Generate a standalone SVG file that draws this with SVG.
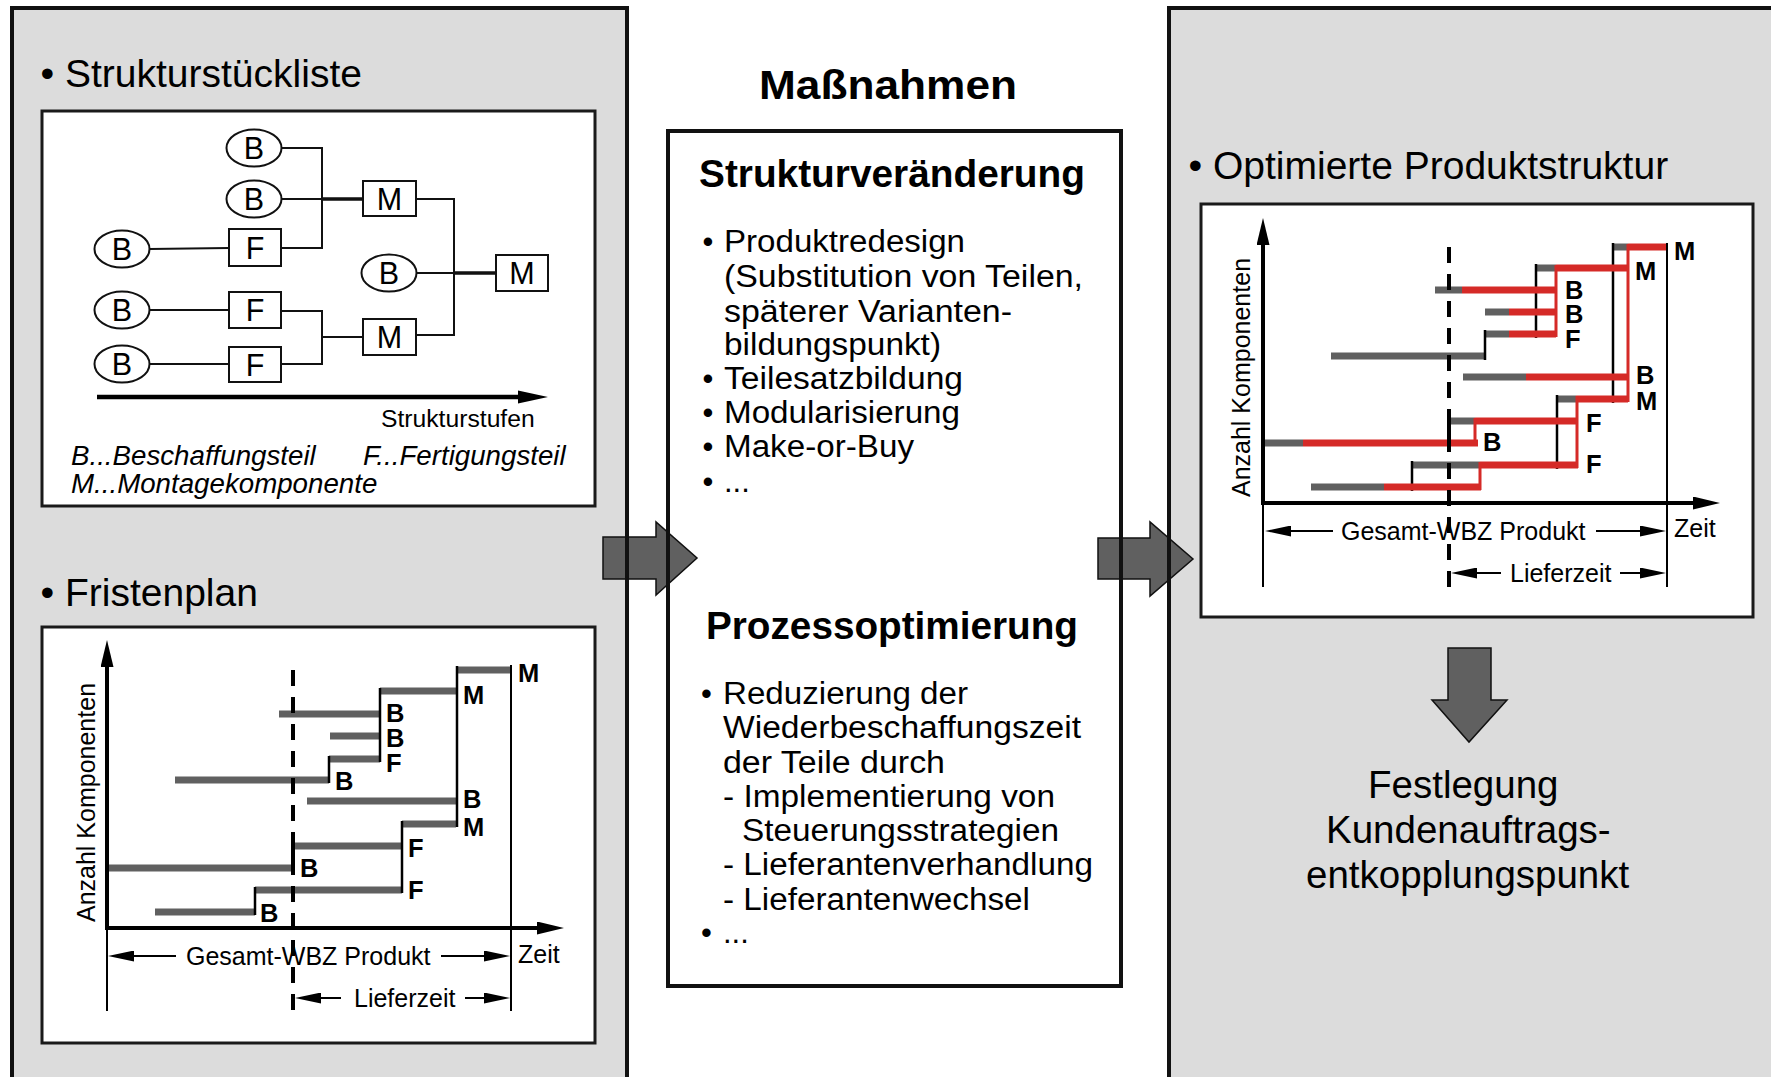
<svg xmlns="http://www.w3.org/2000/svg" width="1771" height="1077" viewBox="0 0 1771 1077">
  <style>
    text { font-family: "Liberation Sans", Arial, sans-serif; fill: #000; }
    .panel { fill: #dcdcdc; stroke: none; }
    .frame { fill: none; stroke: #111; stroke-width: 4; }
    .box { fill: #fff; stroke: #1a1a1a; stroke-width: 3; }
    .title { font-size: 39px; }
    .node { fill: #fff; stroke: #111; stroke-width: 2; }
    .nl { font-size: 30.5px; text-anchor: middle; }
    .wire { fill: none; stroke: #111; stroke-width: 2; }
    .wire-b { fill: none; stroke: #111; stroke-width: 3.5; }
    .legend { font-size: 27.7px; font-style: italic; }
    .axis { stroke: #000; stroke-width: 4; fill: none; }
    .thin { stroke: #000; stroke-width: 2; fill: none; }
    .dash { stroke: #000; stroke-width: 4; stroke-dasharray: 16 11; fill: none; }
    .bar { stroke: #606060; stroke-width: 7; fill: none; }
    .red { stroke: #d52a27; stroke-width: 7; fill: none; }
    .redv { stroke: #d52a27; stroke-width: 3; fill: none; }
    .link { stroke: #000; stroke-width: 2.5; fill: none; }
    .lab { font-size: 25.5px; font-weight: bold; }
    .ax { font-size: 25px; }
    .head { font-weight: bold; }
    .body { font-size: 31px; }
    .blk { fill: #606060; stroke: #111; stroke-width: 1.5; stroke-linejoin: miter; }
  </style>
  <defs>
    <marker id="ah" markerUnits="userSpaceOnUse" markerWidth="26" markerHeight="11" refX="6" refY="5.5" orient="auto">
      <path d="M0,0 L26,5.5 L0,11 z" fill="#000"/>
    </marker>
    <marker id="axh" markerUnits="userSpaceOnUse" markerWidth="27" markerHeight="13" refX="6" refY="6.5" orient="auto">
      <path d="M0,0 L27,6.5 L0,13 z" fill="#000"/>
    </marker>
  </defs>

  <rect width="1771" height="1077" fill="#fff"/>

  <!-- panel and box backgrounds (frames are stroked later, over the block arrows) -->
  <rect class="panel" x="12" y="8" width="615" height="1100"/>
  <rect class="panel" x="1169" y="8" width="700" height="1100"/>
  <rect x="668" y="131" width="453" height="855" fill="#fff"/>

  <!-- block arrows between the columns -->
  <g id="connectors">
    <polygon class="blk" points="603,537 656,537 656,522 697,558 656,595 656,579 603,579"/>
    <polygon class="blk" points="1098,538 1150,538 1150,522 1193,559 1150,596 1150,579 1098,579"/>
    <polygon class="blk" points="1448,648 1491,648 1491,700 1507,700 1469,742 1432,700 1448,700"/>
  </g>

  <!-- frames -->
  <rect class="frame" x="12" y="8" width="615" height="1100"/>
  <rect class="frame" x="1169" y="8" width="700" height="1100"/>
  <rect class="frame" x="668" y="131" width="453" height="855"/>

  <!-- left column: bill of materials -->
  <g id="strukturstueckliste">
    <text class="title" x="40.5" y="87">• Strukturstückliste</text>
    <rect class="box" x="42" y="111" width="553" height="395"/>
    <g id="bom-wires">
      <path class="wire" d="M281.5,148 H322 V248 H281 M281.5,199 H322 M149.5,249 L229,248 M149.5,310 H229 M149.5,364 H229 M281,311 H322 V364 H281 M322,337 H363 M416,199 H454 V335 H416 M416,273 H454"/>
      <path class="wire-b" d="M322,199 H363 M454,273 H496"/>
    </g>
    <g id="bom-nodes">
      <ellipse class="node" cx="254" cy="148" rx="27.5" ry="18.5"/>
      <text class="nl" x="254" y="159">B</text>
      <ellipse class="node" cx="254" cy="199" rx="27.5" ry="18.5"/>
      <text class="nl" x="254" y="210">B</text>
      <ellipse class="node" cx="122" cy="249" rx="27.5" ry="18.5"/>
      <text class="nl" x="122" y="260">B</text>
      <ellipse class="node" cx="122" cy="310" rx="27.5" ry="18.5"/>
      <text class="nl" x="122" y="321">B</text>
      <ellipse class="node" cx="122" cy="364" rx="27.5" ry="18.5"/>
      <text class="nl" x="122" y="375">B</text>
      <ellipse class="node" cx="389" cy="273" rx="27.5" ry="18.5"/>
      <text class="nl" x="389" y="284">B</text>
      <rect class="node" x="229" y="229" width="52" height="37"/>
      <text class="nl" x="255" y="258.5">F</text>
      <rect class="node" x="229" y="292" width="52" height="36"/>
      <text class="nl" x="255" y="321">F</text>
      <rect class="node" x="229" y="347" width="52" height="35"/>
      <text class="nl" x="255" y="375.5">F</text>
      <rect class="node" x="363" y="181" width="53" height="35"/>
      <text class="nl" x="389.5" y="209.5">M</text>
      <rect class="node" x="363" y="319" width="53" height="36"/>
      <text class="nl" x="389.5" y="348">M</text>
      <rect class="node" x="496" y="255" width="52" height="36"/>
      <text class="nl" x="522" y="284">M</text>
    </g>
    <line x1="97" y1="397" x2="522" y2="397" stroke="#000" stroke-width="4.5"/>
    <polygon points="518,390.5 548,397 518,403.5" fill="#000"/>
    <text x="381" y="427" style="font-size:24.7px">Strukturstufen</text>
    <text class="legend" x="71" y="465">B...Beschaffungsteil</text>
    <text class="legend" x="363" y="465">F...Fertigungsteil</text>
    <text class="legend" x="71" y="493">M...Montagekomponente</text>
  </g>

  <!-- left column: lead-time chart -->
  <g id="fristenplan">
    <text class="title" x="40.5" y="606">• Fristenplan</text>
    <rect class="box" x="42" y="627" width="553" height="416"/>
    <g id="fp-bars">
      <path class="bar" d="M457,670 H511 M380,691 H456 M279,714 H380 M330,736 H380 M329,759 H380 M175,780 H329 M307,801 H456 M402,824 H456 M293,846 H402 M107,868 H293 M255,890 H402 M155,912 H255"/>
    </g>
    <g id="fp-links">
      <path class="link" d="M457,666 V827 M380,688 V762 M329,756 V783 M402,821 V893 M255,887 V915"/>
      <line x1="293" y1="843" x2="293" y2="871" stroke="#000" stroke-width="4"/>
    </g>
    <line class="dash" x1="293" y1="670" x2="293" y2="1011"/>
    <line class="thin" x1="107" y1="928" x2="107" y2="1011"/>
    <line class="thin" x1="511" y1="665" x2="511" y2="1011"/>
    <line class="axis" x1="107" y1="930" x2="107" y2="661" marker-end="url(#axh)"/>
    <line class="axis" x1="105" y1="928" x2="543" y2="928" marker-end="url(#axh)"/>
    <text class="ax" transform="translate(95,802.5) rotate(-90)" text-anchor="middle">Anzahl Komponenten</text>
    <g class="lab">
      <text x="518" y="682">M</text>
      <text x="463" y="704">M</text>
      <text x="386" y="722">B</text>
      <text x="386" y="747">B</text>
      <text x="386" y="772">F</text>
      <text x="335" y="790">B</text>
      <text x="463" y="808">B</text>
      <text x="463" y="836">M</text>
      <text x="408" y="857">F</text>
      <text x="300" y="877">B</text>
      <text x="408" y="899">F</text>
      <text x="260" y="922">B</text>
    </g>
    <line class="thin" x1="176" y1="956" x2="128" y2="956" marker-end="url(#ah)"/>
    <line class="thin" x1="441" y1="956" x2="490" y2="956" marker-end="url(#ah)"/>
    <text class="ax" x="186" y="965">Gesamt-WBZ Produkt</text>
    <text class="ax" x="518" y="963">Zeit</text>
    <line class="thin" x1="341" y1="998" x2="315" y2="998" marker-end="url(#ah)"/>
    <line class="thin" x1="465" y1="998" x2="490" y2="998" marker-end="url(#ah)"/>
    <text class="ax" x="354" y="1007">Lieferzeit</text>
  </g>

  <!-- middle column: measures -->
  <g id="massnahmen">
    <text class="head" x="759" y="99" style="font-size:40px" textLength="258" lengthAdjust="spacingAndGlyphs">Maßnahmen</text>
    <text class="head" x="699" y="187" style="font-size:38px" textLength="386" lengthAdjust="spacingAndGlyphs">Strukturveränderung</text>
    <g class="body">
      <text x="702.5" y="252">•</text>
      <text x="724" y="252" textLength="241" lengthAdjust="spacingAndGlyphs">Produktredesign</text>
      <text x="724" y="287" textLength="359" lengthAdjust="spacingAndGlyphs">(Substitution von Teilen,</text>
      <text x="724" y="322" textLength="288" lengthAdjust="spacingAndGlyphs">späterer Varianten-</text>
      <text x="724" y="355" textLength="217" lengthAdjust="spacingAndGlyphs">bildungspunkt)</text>
      <text x="702.5" y="389">•</text>
      <text x="724" y="389" textLength="239" lengthAdjust="spacingAndGlyphs">Teilesatzbildung</text>
      <text x="702.5" y="423">•</text>
      <text x="724" y="423" textLength="236" lengthAdjust="spacingAndGlyphs">Modularisierung</text>
      <text x="702.5" y="457">•</text>
      <text x="724" y="457" textLength="190" lengthAdjust="spacingAndGlyphs">Make-or-Buy</text>
      <text x="702.5" y="492">•</text>
      <text x="724" y="492">...</text>
    </g>
    <text class="head" x="706" y="639" style="font-size:38px" textLength="372" lengthAdjust="spacingAndGlyphs">Prozessoptimierung</text>
    <g class="body">
      <text x="701" y="704">•</text>
      <text x="723" y="704" textLength="245" lengthAdjust="spacingAndGlyphs">Reduzierung der</text>
      <text x="723" y="738" textLength="358" lengthAdjust="spacingAndGlyphs">Wiederbeschaffungszeit</text>
      <text x="723" y="773" textLength="222" lengthAdjust="spacingAndGlyphs">der Teile durch</text>
      <text x="723" y="807" textLength="332" lengthAdjust="spacingAndGlyphs">- Implementierung von</text>
      <text x="742" y="841" textLength="317" lengthAdjust="spacingAndGlyphs">Steuerungsstrategien</text>
      <text x="723" y="875" textLength="370" lengthAdjust="spacingAndGlyphs">- Lieferantenverhandlung</text>
      <text x="723" y="910" textLength="307" lengthAdjust="spacingAndGlyphs">- Lieferantenwechsel</text>
      <text x="701" y="943">•</text>
      <text x="723" y="943">...</text>
    </g>
  </g>

  <!-- right column: optimised product structure -->
  <g id="optimierte-produktstruktur">
    <text class="title" x="1188.5" y="179">• Optimierte Produktstruktur</text>
    <rect class="box" x="1201" y="204" width="552" height="413"/>
    <g id="op-bars">
      <path class="bar" d="M1612,247 H1628 M1536,268 H1556 M1435,290 H1462 M1485,312 H1509 M1485,334 H1509 M1331,356 H1485 M1463,377 H1526 M1557,399 H1576 M1450,421 H1475 M1264,443 H1303 M1412,465 H1480 M1311,487 H1384"/>
      <path class="link" d="M1613,243 V403 M1536,264 V338 M1485,330 V360 M1557,395 V469 M1412,461 V491"/>
      <path class="red" d="M1628,247 H1667 M1556,268 H1628 M1462,290 H1556 M1509,312 H1556 M1509,334 H1556 M1526,377 H1628 M1576,399 H1628 M1475,421 H1577 M1303,443 H1478 M1480,465 H1578 M1384,487 H1481"/>
      <path class="redv" d="M1628,244 V402 M1556,265 V337 M1577,396 V468 M1475,418 V446 M1480,462 V490"/>
      <line x1="1449" y1="418" x2="1449" y2="447" stroke="#000" stroke-width="4"/>
    </g>
    <line class="dash" x1="1449" y1="247" x2="1449" y2="587"/>
    <line class="thin" x1="1263" y1="503" x2="1263" y2="587"/>
    <line class="thin" x1="1667" y1="243" x2="1667" y2="587"/>
    <line class="axis" x1="1263" y1="505" x2="1263" y2="239" marker-end="url(#axh)"/>
    <line class="axis" x1="1261" y1="503" x2="1699" y2="503" marker-end="url(#axh)"/>
    <text class="ax" transform="translate(1250,377.5) rotate(-90)" text-anchor="middle">Anzahl Komponenten</text>
    <g class="lab">
      <text x="1674" y="260">M</text>
      <text x="1635" y="280">M</text>
      <text x="1565" y="299">B</text>
      <text x="1565" y="323">B</text>
      <text x="1565" y="348">F</text>
      <text x="1636" y="384">B</text>
      <text x="1636" y="410">M</text>
      <text x="1586" y="432">F</text>
      <text x="1483" y="451">B</text>
      <text x="1586" y="473">F</text>
    </g>
    <line class="thin" x1="1333" y1="531" x2="1285" y2="531" marker-end="url(#ah)"/>
    <line class="thin" x1="1596" y1="531" x2="1646" y2="531" marker-end="url(#ah)"/>
    <text class="ax" x="1341" y="540">Gesamt-WBZ Produkt</text>
    <text class="ax" x="1674" y="537">Zeit</text>
    <line class="thin" x1="1501" y1="573" x2="1471" y2="573" marker-end="url(#ah)"/>
    <line class="thin" x1="1620" y1="573" x2="1646" y2="573" marker-end="url(#ah)"/>
    <text class="ax" x="1510" y="582">Lieferzeit</text>
  </g>

  <!-- conclusion below the down arrow -->
  <g id="festlegung" style="font-size:38.5px">
    <text x="1368" y="798">Festlegung</text>
    <text x="1326" y="843">Kundenauftrags-</text>
    <text x="1306" y="888">entkopplungspunkt</text>
  </g>
</svg>
